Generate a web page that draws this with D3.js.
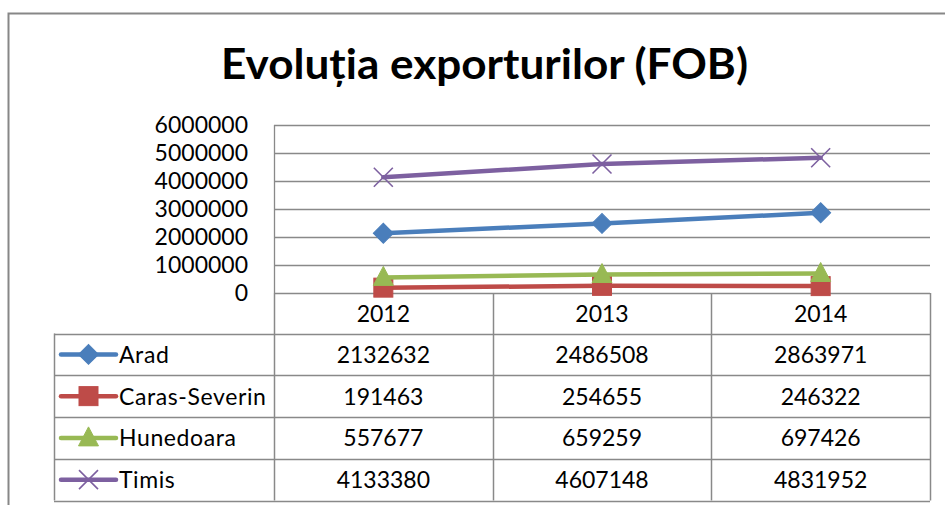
<!DOCTYPE html>
<html>
<head>
<meta charset="utf-8">
<script src="https://cdn.jsdelivr.net/npm/d3@7"></script>
<style>
  html, body { margin: 0; padding: 0; background: #fff; }
  svg { display: block; font-family: Lato, "Open Sans", sans-serif; }
</style>
</head>
<body>
<svg id="chart" width="945" height="505"></svg>
<script>
// Export values (FOB) by county, 2012–2014
const years = ["2012", "2013", "2014"];
const seriesNames = ["Arad", "Caras-Severin", "Hunedoara", "Timis"];
const arad = [2132632, 2486508, 2863971];
const carasSeverin = [191463, 254655, 246322];
const hunedoara = [557677, 659259, 697426];
const timis = [4133380, 4607148, 4831952];
const yTicks = [0, 1000000, 2000000, 3000000, 4000000, 5000000, 6000000];
const titleText = "Evoluția exporturilor (FOB)";

const seriesValues = [arad, carasSeverin, hunedoara, timis];
const colors = ["#4A7EBB", "#BE4B48", "#98B954", "#7D60A0"];
const markerTypes = ["diamond", "square", "triangle", "cross"];

const svg = d3.select("#chart");

// chart frame
svg.append("rect")
  .attr("x", 8.5).attr("y", 13.5)
  .attr("width", 1000).attr("height", 1000)
  .attr("fill", "#fff").attr("stroke", "#878787").attr("stroke-width", 2);

// title
svg.append("text")
  .attr("x", 484.5).attr("y", 79)
  .attr("text-anchor", "middle")
  .attr("font-size", 42).attr("font-weight", 700)
  .attr("textLength", 527).attr("lengthAdjust", "spacingAndGlyphs")
  .attr("fill", "#000")
  .text(titleText);

const plot = { left: 274, right: 930, top: 125, bottom: 293 };

const x = d3.scaleBand().domain(years).range([plot.left, plot.right]);
const y = d3.scaleLinear().domain([0, 6000000]).range([plot.bottom, plot.top]);
const cx = d => x(d) + x.bandwidth() / 2;

const gridColor = "#898989";

// horizontal gridlines
svg.append("g").selectAll("line").data(yTicks).join("line")
  .attr("x1", plot.left).attr("x2", plot.right)
  .attr("y1", d => Math.round(y(d)) + 0.5).attr("y2", d => Math.round(y(d)) + 0.5)
  .attr("stroke", gridColor).attr("stroke-width", 1.3);

// left axis line
svg.append("line")
  .attr("x1", plot.left + 0.5).attr("x2", plot.left + 0.5)
  .attr("y1", plot.top).attr("y2", plot.bottom)
  .attr("stroke", gridColor).attr("stroke-width", 1.3);

// y axis labels
const yAxis = d3.axisLeft(y).tickValues(yTicks).tickFormat(d3.format("d")).tickSize(0).tickPadding(26);
const yg = svg.append("g").attr("transform", `translate(${plot.left},0)`).call(yAxis);
yg.select(".domain").remove();
yg.selectAll("text").attr("font-size", 23).attr("font-family", "Lato, sans-serif").attr("fill", "#000");

// data table
const rowH = 41.75;
const headerTop = plot.bottom, headerBottom = 333.5;
const tableLeft = 54;
const rowTop = i => headerBottom + i * rowH;
const tableBottom = rowTop(seriesNames.length);

const tg = svg.append("g");
// horizontal rules of table
[headerBottom].concat(seriesNames.map((_, i) => rowTop(i + 1))).forEach(yy => {
  tg.append("line")
    .attr("x1", tableLeft).attr("x2", plot.right)
    .attr("y1", Math.round(yy) + 0.5).attr("y2", Math.round(yy) + 0.5)
    .attr("stroke", gridColor).attr("stroke-width", 1.5);
});
// vertical rules: category boundaries
const bounds = years.map(d => x(d)).concat([plot.right]);
bounds.forEach(bx => {
  tg.append("line")
    .attr("x1", Math.round(bx) + 0.5).attr("x2", Math.round(bx) + 0.5)
    .attr("y1", headerTop).attr("y2", tableBottom)
    .attr("stroke", gridColor).attr("stroke-width", 1.5);
});
// left edge of label column
tg.append("line")
  .attr("x1", tableLeft + 0.5).attr("x2", tableLeft + 0.5)
  .attr("y1", headerBottom).attr("y2", tableBottom)
  .attr("stroke", gridColor).attr("stroke-width", 1.5);

// year header labels
tg.selectAll("text.year").data(years).join("text")
  .attr("class", "year")
  .attr("x", d => cx(d)).attr("y", 321.5)
  .attr("text-anchor", "middle").attr("font-size", 23).attr("fill", "#000")
  .text(d => d);

// marker shapes
function drawMarker(g, type, color, px, py) {
  if (type === "diamond") {
    g.append("path").attr("d", d3.symbol(d3.symbolSquare, 200)())
      .attr("transform", `translate(${px},${py}) rotate(45)`)
      .attr("fill", color).attr("stroke", color).attr("stroke-width", 1);
  } else if (type === "square") {
    g.append("rect").attr("x", px - 9.5).attr("y", py - 9.5)
      .attr("width", 19).attr("height", 19)
      .attr("fill", color).attr("stroke", color).attr("stroke-width", 1);
  } else if (type === "triangle") {
    g.append("path")
      .attr("d", `M${px},${py - 11}L${px + 10},${py + 8}L${px - 10},${py + 8}Z`)
      .attr("fill", color).attr("stroke", color).attr("stroke-width", 1);
  } else {
    const s = 9.5;
    g.append("path")
      .attr("d", `M${px - s},${py - s}L${px + s},${py + s}M${px - s},${py + s}L${px + s},${py - s}`)
      .attr("stroke", color).attr("stroke-width", 1.6).attr("fill", "none");
  }
}

// rows: legend key, name, values
seriesNames.forEach((name, i) => {
  const top = rowTop(i);
  const mid = top + rowH / 2;
  const g = tg.append("g");
  g.append("line")
    .attr("x1", 61).attr("x2", 116).attr("y1", mid).attr("y2", mid)
    .attr("stroke", colors[i]).attr("stroke-width", 4.5).attr("stroke-linecap", "round");
  drawMarker(g, markerTypes[i], colors[i], 88.5, mid);
  g.append("text")
    .attr("x", 119).attr("y", mid + 8.5)
    .attr("font-size", 23).attr("letter-spacing", 0.6).attr("fill", "#000")
    .text(name);
  g.selectAll("text.val").data(seriesValues[i]).join("text")
    .attr("class", "val")
    .attr("x", (d, j) => cx(years[j])).attr("y", mid + 8.5)
    .attr("text-anchor", "middle").attr("font-size", 23).attr("fill", "#000")
    .text(d => d3.format("d")(d));
});

// series lines and markers
const line = d3.line().x((d, j) => cx(years[j])).y(d => y(d));
seriesValues.forEach((vals, i) => {
  const g = svg.append("g");
  g.append("path").datum(vals)
    .attr("d", line).attr("fill", "none")
    .attr("stroke", colors[i]).attr("stroke-width", 4.5).attr("stroke-linecap", "round");
  vals.forEach((v, j) => drawMarker(g, markerTypes[i], colors[i], cx(years[j]), y(v)));
});
</script>
</body>
</html>
